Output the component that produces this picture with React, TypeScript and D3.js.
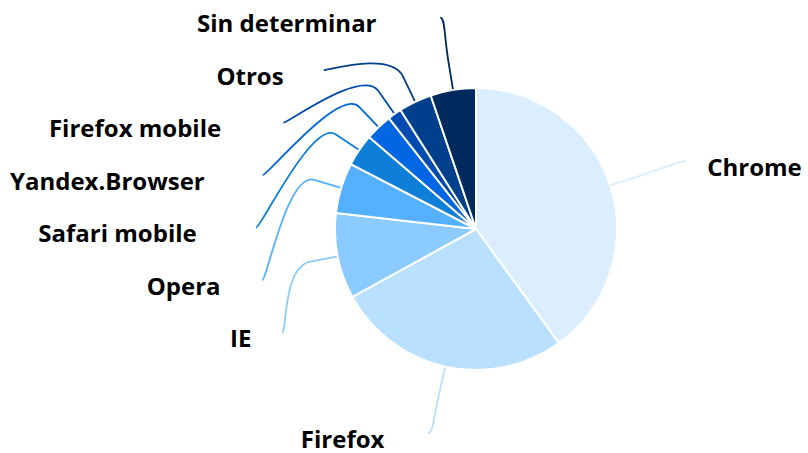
import React, { useMemo } from "react";
import * as d3 from "d3";

const WIDTH = 808;
const HEIGHT = 453;

// browser share, clockwise from 12 o'clock
const browsers = [
  "Chrome",
  "Firefox",
  "IE",
  "Opera",
  "Safari mobile",
  "Yandex.Browser",
  "Firefox mobile",
  "Otros",
  "Sin determinar",
];
const shares = [40.0, 27.0, 9.8, 5.8, 3.7, 3.1, 1.6, 3.8, 5.2];
const colors = [
  "#dbeeff",
  "#b9e0ff",
  "#8ccbff",
  "#55b1ff",
  "#0d7fd9",
  "#0066e4",
  "#004bb0",
  "#003f8c",
  "#002a5e",
];

const CX = 476;
const CY = 229;
const RADIUS = 141;
const LABEL_RADIUS = 220;
const BREAK_OFFSET = 28;
const SLOT = 52.5;
const TOP = 17.7;
const BOTTOM = 433;
const SPACING = 10;
const FONT_SIZE = 24;
const FONT_FAMILY = "'Open Sans'";
const FONT = `bold ${FONT_SIZE}px ${FONT_FAMILY}`;

let ctx: CanvasRenderingContext2D | null = null;
const measure = (txt: string) => {
  if (!ctx) ctx = document.createElement("canvas").getContext("2d");
  if (!ctx) return txt.length * FONT_SIZE * 0.6;
  ctx.font = FONT;
  return ctx.measureText(txt).width;
};

const getX = (y: number, left: boolean) => {
  const dy = Math.max(-LABEL_RADIUS, Math.min(LABEL_RADIUS, y - CY));
  const dx = Math.sqrt(LABEL_RADIUS * LABEL_RADIUS - dy * dy);
  return CX + (left ? -dx : dx);
};

const polar = (a: number, rr: number) => ({
  x: CX + rr * Math.sin(a),
  y: CY - rr * Math.cos(a),
});

export const BrowserPie = () => {
  const arcs = useMemo(
    () =>
      d3
        .pie<number>()
        .sort(null)
        .value((d) => d)(shares),
    []
  );

  const arcGen = useMemo(
    () => d3.arc<d3.PieArcDatum<number>>().innerRadius(0).outerRadius(RADIUS),
    []
  );

  const labels = useMemo(() => {
    const items = arcs.map((a, i) => {
      const mid = (a.startAngle + a.endAngle) / 2;
      const left = mid > Math.PI;
      const nat = polar(mid, LABEL_RADIUS);
      return { i, mid, left, natY: nat.y, natX: nat.x, y: nat.y, x: nat.x, clamped: false };
    });

    // push labels apart on each side
    [true, false].forEach((side) => {
      const group = items.filter((d) => d.left === side).sort((a, b) => a.natY - b.natY);
      let prev = -Infinity;
      group.forEach((d) => {
        let y = Math.max(d.natY, prev + SLOT);
        if (y <= TOP) {
          y = TOP;
          d.clamped = true;
        }
        if (y >= BOTTOM) {
          y = BOTTOM;
          d.clamped = true;
        }
        d.y = y;
        prev = y;
      });
      for (let k = group.length - 2; k >= 0; k--) {
        if (group[k].y > group[k + 1].y - SLOT) group[k].y = group[k + 1].y - SLOT;
      }
      group.forEach((d) => {
        d.x = d.clamped ? getX(d.natY, d.left) : getX(d.y, d.left);
      });
    });

    return items.map((d) => {
      const touch = polar(d.mid, RADIUS);
      const brk = polar(d.mid, RADIUS + BREAK_OFFSET);
      const path = [
        `M${d.x},${d.y}`,
        `C${d.x + (d.left ? 5 : -5)},${d.y} ${2 * brk.x - touch.x},${2 * brk.y - touch.y} ${brk.x},${brk.y}`,
        `L${touch.x},${touch.y}`,
      ].join(" ");
      const w = measure(browsers[d.i]);
      // right aligned labels sit a bit off the connector end, kept inside the chart
      let tx = d.left ? d.x - 26 - 1.21 * w : d.x + 22;
      tx = Math.max(SPACING, Math.min(WIDTH - 6 - w, tx));
      return { ...d, path, tx, ty: d.y + 14.5 };
    });
  }, [arcs]);

  return (
    <svg
      width={WIDTH}
      height={HEIGHT}
      style={{ position: "absolute", left: 0, top: 0, background: "#fff" }}
    >
      {labels.map((l) => (
        <path
          key={"c" + l.i}
          d={l.path}
          fill="none"
          stroke={colors[l.i]}
          strokeWidth={1.8}
        />
      ))}
      <g transform={`translate(${CX},${CY})`}>
        {arcs.map((a, i) => (
          <path
            key={browsers[i]}
            d={arcGen(a) || ""}
            fill={colors[i]}
            stroke="#ffffff"
            strokeWidth={2}
            strokeLinejoin="round"
          />
        ))}
      </g>
      {labels.map((l) => (
        <text
          key={"t" + l.i}
          x={l.tx}
          y={l.ty}
          textAnchor="start"
          fontFamily={FONT_FAMILY}
          fontWeight={700}
          fontSize={FONT_SIZE}
          fill="#000"
        >
          {browsers[l.i]}
        </text>
      ))}
    </svg>
  );
};

export default function App() {
  return <BrowserPie />;
}
